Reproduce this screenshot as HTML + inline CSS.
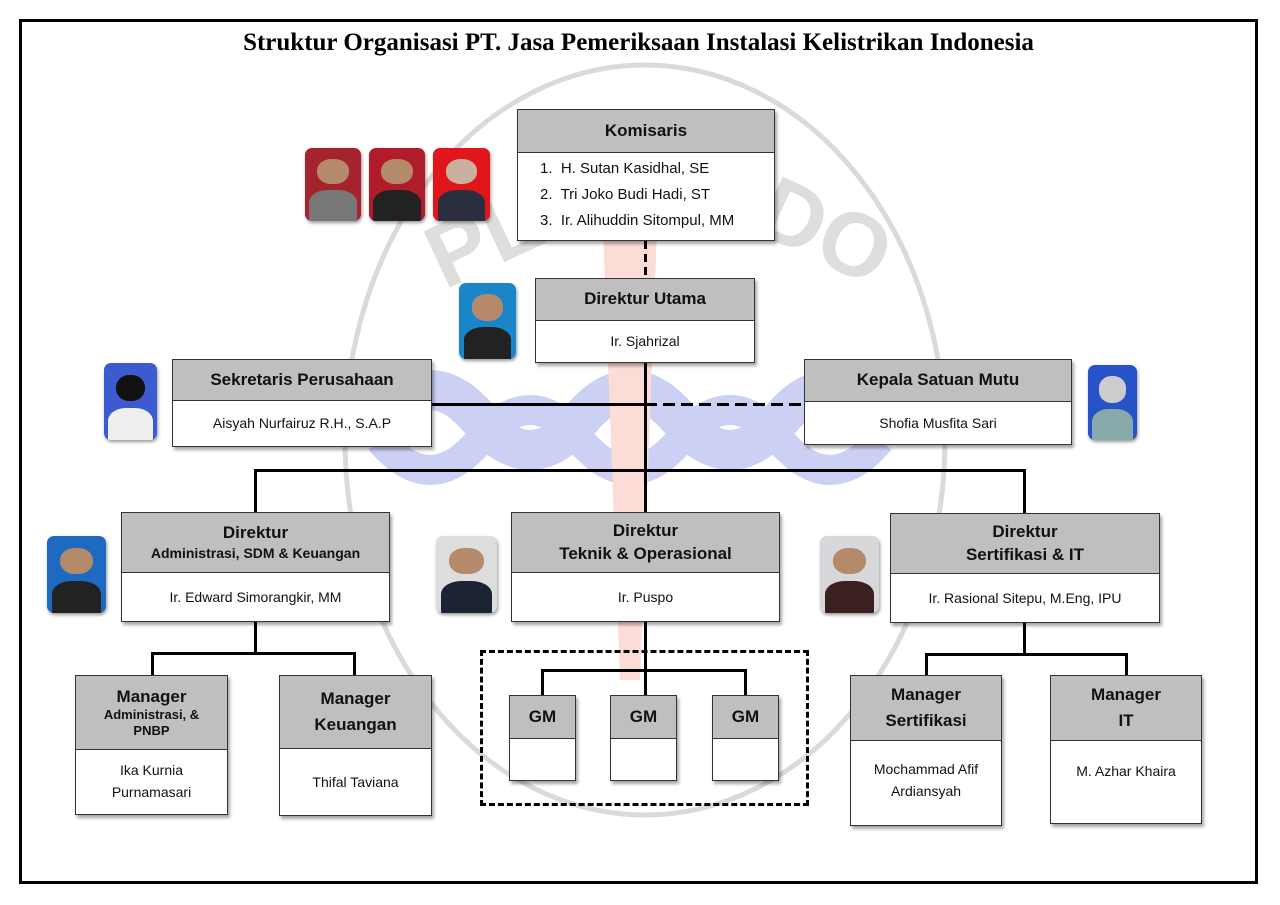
<!DOCTYPE html>
<html><head><meta charset="utf-8"><style>
body{margin:0;width:1280px;height:905px;background:#fff;position:relative;overflow:hidden;font-family:"Liberation Sans",sans-serif}
.a{position:absolute}
.box{position:absolute;border:1.5px solid #333;background:#fff;box-shadow:2px 3px 3px rgba(0,0,0,.35);box-sizing:border-box}
.h{background:#bfbfbf;border-bottom:1.5px solid #333;box-sizing:border-box;display:flex;flex-direction:column;justify-content:center;align-items:center;text-align:center;font-weight:bold;color:#111;font-size:16px;line-height:1.3}
.b{display:flex;flex-direction:column;justify-content:center;align-items:center;text-align:center;font-size:14px;color:#111;line-height:1.6}
.ln{position:absolute;background:#000}
.ph{position:absolute;border-radius:7px;box-shadow:1px 2px 3px rgba(0,0,0,.4);overflow:hidden}
.ph i{position:absolute;left:22%;right:22%;top:15%;height:35%;background:#b58a6a;border-radius:45%}
.ph u{position:absolute;left:8%;right:8%;bottom:0;height:42%;background:#222;border-radius:40% 40% 0 0}
</style></head><body>
<svg class="a" style="left:0;top:0" width="1280" height="905">
<ellipse cx="645" cy="440" rx="300" ry="375" fill="none" stroke="#dadada" stroke-width="5"/>
<path d="M380 420 Q430 360 480 420 T580 420 T680 420 T780 420 T880 420" fill="none" stroke="#ccd0f4" stroke-width="40"/>
<path d="M380 440 Q430 500 480 440 T580 440 T680 440 T780 440 T880 440" fill="none" stroke="#ccd0f4" stroke-width="30"/>
<path d="M600 150 L660 150 L640 680 L620 680 Z" fill="#fcdcd6"/>
<text x="420" y="260" font-size="90" font-weight="bold" fill="#dedede" transform="rotate(-25 500 220)" font-family="Liberation Sans">PLN</text>
<text x="760" y="250" font-size="90" font-weight="bold" fill="#dedede" transform="rotate(25 800 220)" font-family="Liberation Sans">DO</text>
</svg>
<div class="a" style="left:19px;top:19px;width:1239px;height:865px;border:3px solid #000;box-sizing:border-box"></div>
<div class="a" style="left:0;width:1277px;top:29px;text-align:center;font-family:'Liberation Serif',serif;font-weight:bold;font-size:25px">Struktur Organisasi PT. Jasa Pemeriksaan Instalasi Kelistrikan Indonesia</div>

<div class="ln" style="left:644px;top:241px;width:3px;height:37px;background:repeating-linear-gradient(#000 0 8px,transparent 8px 13px)"></div>
<div class="ln" style="left:644px;top:363px;width:3px;height:149px"></div>
<div class="ln" style="left:432px;top:403px;width:213px;height:3px"></div>
<div class="ln" style="left:645px;top:403px;width:159px;height:3px;background:repeating-linear-gradient(90deg,#000 0 12px,transparent 12px 18px)"></div>
<div class="ln" style="left:254px;top:469px;width:772px;height:3px"></div>
<div class="ln" style="left:254px;top:469px;width:3px;height:43px"></div>
<div class="ln" style="left:1023px;top:469px;width:3px;height:44px"></div>
<div class="ln" style="left:254px;top:622px;width:3px;height:32px"></div>
<div class="ln" style="left:151px;top:652px;width:205px;height:3px"></div>
<div class="ln" style="left:151px;top:652px;width:3px;height:23px"></div>
<div class="ln" style="left:353px;top:652px;width:3px;height:23px"></div>
<div class="ln" style="left:644px;top:622px;width:3px;height:73px"></div>
<div class="ln" style="left:541px;top:669px;width:206px;height:3px"></div>
<div class="ln" style="left:541px;top:669px;width:3px;height:26px"></div>
<div class="ln" style="left:744px;top:669px;width:3px;height:26px"></div>
<div class="ln" style="left:1023px;top:623px;width:3px;height:31px"></div>
<div class="ln" style="left:925px;top:653px;width:203px;height:3px"></div>
<div class="ln" style="left:925px;top:653px;width:3px;height:22px"></div>
<div class="ln" style="left:1125px;top:653px;width:3px;height:22px"></div>
<div class="a" style="left:480px;top:650px;width:329px;height:156px;border:3px dashed #000;box-sizing:border-box"></div>

<div class="box" style="left:517px;top:109px;width:258px;height:132px"><div class="h" style="height:43px;font-size:17px">Komisaris</div>
<div style="font-size:15px;line-height:26px;padding:3px 0 0 22px;color:#111">1.&nbsp; H. Sutan Kasidhal, SE<br>2.&nbsp; Tri Joko Budi Hadi, ST<br>3.&nbsp; Ir. Alihuddin Sitompul, MM</div></div>

<div class="box" style="left:535px;top:278px;width:220px;height:85px"><div class="h" style="height:42px;font-size:17px">Direktur Utama</div><div class="b" style="height:40px">Ir. Sjahrizal</div></div>
<div class="box" style="left:172px;top:359px;width:260px;height:88px"><div class="h" style="height:41px;font-size:17px">Sekretaris Perusahaan</div><div class="b" style="height:44px">Aisyah Nurfairuz R.H., S.A.P</div></div>
<div class="box" style="left:804px;top:359px;width:268px;height:86px"><div class="h" style="height:42px;font-size:17px">Kepala Satuan Mutu</div><div class="b" style="height:42px">Shofia Musfita Sari</div></div>

<div class="box" style="left:121px;top:512px;width:269px;height:110px"><div class="h" style="height:60px;font-size:17px">Direktur<span style="font-size:14px">Administrasi, SDM &amp; Keuangan</span></div><div class="b" style="height:48px">Ir. Edward Simorangkir, MM</div></div>
<div class="box" style="left:511px;top:512px;width:269px;height:110px"><div class="h" style="height:60px;font-size:17px">Direktur<br>Teknik &amp; Operasional</div><div class="b" style="height:48px">Ir. Puspo</div></div>
<div class="box" style="left:890px;top:513px;width:270px;height:110px"><div class="h" style="height:60px;font-size:17px">Direktur<br>Sertifikasi &amp; IT</div><div class="b" style="height:48px">Ir. Rasional Sitepu, M.Eng, IPU</div></div>

<div class="box" style="left:75px;top:675px;width:153px;height:140px"><div class="h" style="height:74px;line-height:1.25;font-size:17px">Manager<span style="font-size:13px">Administrasi, &amp;<br>PNBP</span></div><div class="b" style="height:64px;line-height:1.55">Ika Kurnia<br>Purnamasari</div></div>
<div class="box" style="left:279px;top:675px;width:153px;height:141px"><div class="h" style="height:73px;line-height:1.55;font-size:17px">Manager<br>Keuangan</div><div class="b" style="height:66px">Thifal Taviana</div></div>
<div class="box" style="left:509px;top:695px;width:67px;height:86px"><div class="h" style="height:43px;font-size:17px">GM</div></div>
<div class="box" style="left:610px;top:695px;width:67px;height:86px"><div class="h" style="height:43px;font-size:17px">GM</div></div>
<div class="box" style="left:712px;top:695px;width:67px;height:86px"><div class="h" style="height:43px;font-size:17px">GM</div></div>
<div class="box" style="left:850px;top:675px;width:152px;height:151px"><div class="h" style="height:65px;line-height:1.55;font-size:17px">Manager<br>Sertifikasi</div><div class="b" style="height:78px">Mochammad Afif<br>Ardiansyah</div></div>
<div class="box" style="left:1050px;top:675px;width:152px;height:149px"><div class="h" style="height:65px;line-height:1.55;font-size:17px">Manager<br>IT</div><div class="b" style="height:60px">M. Azhar Khaira</div></div>

<div class="ph" style="left:305px;top:148px;width:56px;height:73px;background:#a5232d"><i></i><u style="background:#777"></u></div>
<div class="ph" style="left:369px;top:148px;width:56px;height:73px;background:#b01c2a"><i></i><u></u></div>
<div class="ph" style="left:433px;top:148px;width:57px;height:73px;background:#e0161a"><i style="background:#c9b0a0"></i><u style="background:#2a2f40"></u></div>
<div class="ph" style="left:459px;top:283px;width:57px;height:76px;background:#1a86c8"><i></i><u></u></div>
<div class="ph" style="left:104px;top:363px;width:53px;height:77px;background:#3d5bd0"><i style="background:#111"></i><u style="background:#eee"></u></div>
<div class="ph" style="left:1088px;top:365px;width:49px;height:75px;background:#2752c8"><i style="background:#ccc"></i><u style="background:#8aa"></u></div>
<div class="ph" style="left:47px;top:536px;width:59px;height:77px;background:#1d6ac0"><i></i><u></u></div>
<div class="ph" style="left:436px;top:536px;width:61px;height:77px;background:#ddd"><i></i><u style="background:#1c2333"></u></div>
<div class="ph" style="left:820px;top:536px;width:59px;height:77px;background:#d8d8dc"><i></i><u style="background:#3a2020"></u></div>
</body></html>
